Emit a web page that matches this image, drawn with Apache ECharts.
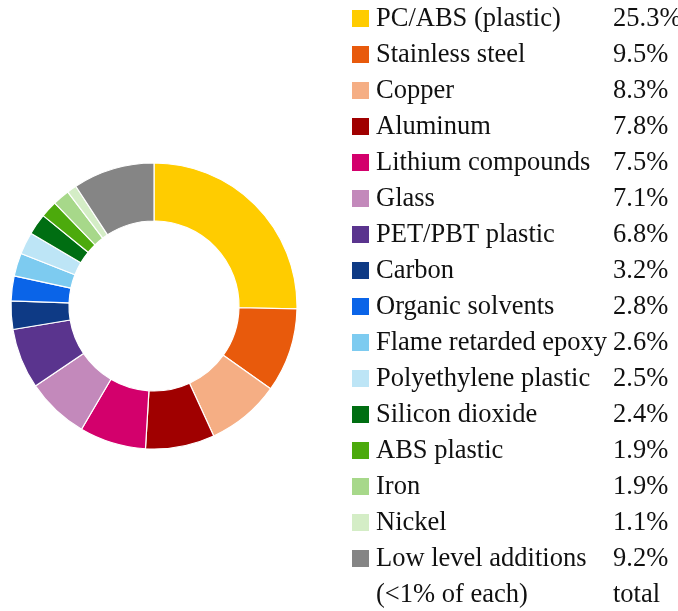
<!DOCTYPE html>
<html>
<head>
<meta charset="utf-8">
<script src="https://cdn.jsdelivr.net/npm/echarts@6/dist/echarts.min.js"></script>
<style>
  html, body { margin: 0; padding: 0; background: #fff; }
  #chart { width: 678px; height: 611px; }
</style>
</head>
<body>
<div id="chart"></div>
<script>
// Material composition, share by weight (%)
const materials = [
  'PC/ABS (plastic)', 'Stainless steel', 'Copper', 'Aluminum',
  'Lithium compounds', 'Glass', 'PET/PBT plastic', 'Carbon',
  'Organic solvents', 'Flame retarded epoxy', 'Polyethylene plastic',
  'Silicon dioxide', 'ABS plastic', 'Iron', 'Nickel', 'Low level additions'
];
const shares = [25.3, 9.5, 8.3, 7.8, 7.5, 7.1, 6.8, 3.2, 2.8, 2.6, 2.5, 2.4, 1.9, 1.9, 1.1, 9.2];
const colors = [
  '#FFCC00', '#E85A0C', '#F5AE84', '#A00000',
  '#D3006C', '#C389BB', '#5A348E', '#0E3A85',
  '#0A64E8', '#7DCBF0', '#BDE5F6', '#006E12',
  '#4CAA0C', '#A7D88A', '#D4EDC6', '#858585'
];
const footNote = '(<1% of each)';
const footValue = 'total';

const chart = echarts.init(document.getElementById('chart'));
const font = '26.5px "Liberation Serif", "Times New Roman", serif';
const textColor = '#111';

// Key: one row per material, swatch + name + share column
const rowTop = 10, rowStep = 36, swatch = 17;
const keyX = 352, nameX = 376, valueX = 613, textDy = 9;
const key = [];
materials.forEach((m, i) => {
  const y = rowTop + i * rowStep;
  key.push({ type: 'rect', shape: { x: keyX, y: y, width: swatch, height: swatch }, style: { fill: colors[i] } });
  key.push({ type: 'text', x: nameX, y: y + textDy, style: { text: m, font: font, fill: textColor, verticalAlign: 'middle' } });
  key.push({ type: 'text', x: valueX, y: y + textDy, style: { text: shares[i].toFixed(1) + '%', font: font, fill: textColor, verticalAlign: 'middle' } });
});
const footY = rowTop + materials.length * rowStep + textDy;
key.push({ type: 'text', x: nameX, y: footY, style: { text: footNote, font: font, fill: textColor, verticalAlign: 'middle' } });
key.push({ type: 'text', x: valueX, y: footY, style: { text: footValue, font: font, fill: textColor, verticalAlign: 'middle' } });

chart.setOption({
  animation: false,
  color: colors,
  graphic: key,
  series: [{
    type: 'pie',
    center: [154, 306],
    radius: [85, 143],
    startAngle: 90,
    clockwise: true,
    label: { show: false },
    labelLine: { show: false },
    emphasis: { disabled: true },
    itemStyle: { borderColor: '#fff', borderWidth: 1.2 },
    data: materials.map((m, i) => ({ name: m, value: shares[i] }))
  }]
});
</script>
</body>
</html>
